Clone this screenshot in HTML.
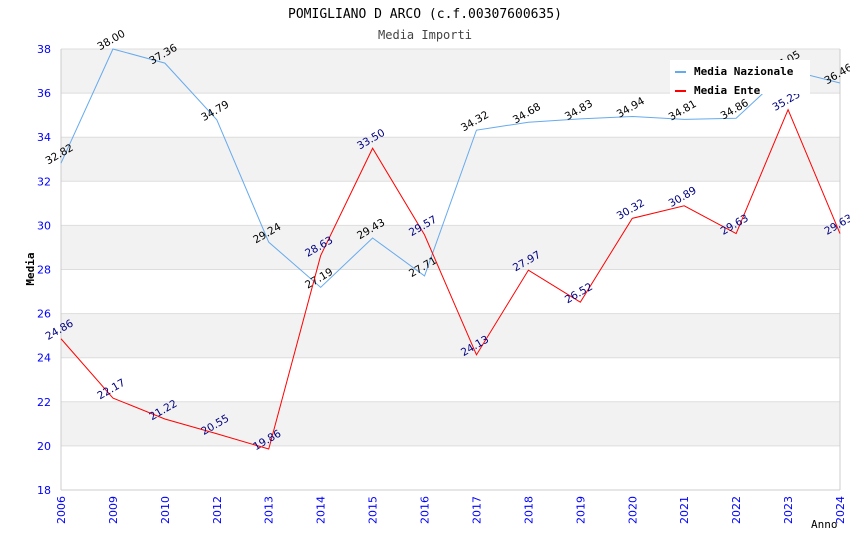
<!DOCTYPE html>
<html><head><meta charset="utf-8"><style>
body{margin:0;background:#fff}
svg{display:block}
.mono{font-family:"DejaVu Sans Mono","Liberation Mono",monospace}
.sans{font-family:"DejaVu Sans","Liberation Sans",sans-serif}
</style></head><body>
<svg id="c" width="850" height="550"></svg>
<script>
const categories=["2006","2009","2010","2012","2013","2014","2015","2016","2017","2018","2019","2020","2021","2022","2023","2024"];
const nazionale=[32.82,38.00,37.36,34.79,29.24,27.19,29.43,27.71,34.32,34.68,34.83,34.94,34.81,34.86,37.05,36.46];
const ente=[24.86,22.17,21.22,20.55,19.86,28.63,33.50,29.57,24.13,27.97,26.52,30.32,30.89,29.63,35.25,29.63];
const yTicks=[18,20,22,24,26,28,30,32,34,36,38];
const NS="http://www.w3.org/2000/svg";
const svg=document.getElementById('c');
const L=61,R=840,T=49,B=490,yMin=18,yMax=38;
const xS=i=>L+i*(R-L)/(categories.length-1);
const yS=v=>B-(v-yMin)/(yMax-yMin)*(B-T);
function mk(tag,attrs,parent){const e=document.createElementNS(NS,tag);for(const k in attrs)e.setAttribute(k,attrs[k]);(parent||svg).appendChild(e);return e;}
for(let i=0;i<yTicks.length-1;i++){
 if(i%2===1){const r=mk('rect',{x:L,y:yS(yTicks[i+1]),width:R-L,height:yS(yTicks[i])-yS(yTicks[i+1]),fill:'#f2f2f2'});
 
 }
}
yTicks.forEach(v=>{
 const g=mk('line',{x1:L,x2:R,y1:yS(v),y2:yS(v),stroke:'#dddddd','stroke-width':1});
 
 
 const t=mk('text',{x:L-10,y:yS(v)+4,'text-anchor':'end','font-size':11,fill:'#0000ff',class:'sans'});
 t.textContent=v;
 
 
});
mk('line',{x1:L,x2:L,y1:T,y2:B,stroke:'#ccc'});
mk('line',{x1:R,x2:R,y1:T,y2:B,stroke:'#ccc'});
mk('line',{x1:L,x2:R,y1:B,y2:B,stroke:'#ccc'});
categories.forEach((c,i)=>{
 const x=xS(i);
 const t=mk('text',{x:0,y:0,'text-anchor':'end','font-size':11,fill:'#0000ff',class:'sans',transform:`translate(${x+4},${B+6}) rotate(-90)`});
 t.textContent=c;
 
 
});
function series(data,color,labelColor,name){
 const p=mk('polyline',{points:data.map((v,i)=>xS(i)+','+yS(v)).join(' '),fill:'none',stroke:color,'stroke-width':1});
 
 
 data.forEach((v,i)=>{
  const t=mk('text',{x:0,y:0,'text-anchor':'middle','font-size':10.5,fill:labelColor,class:'sans',transform:`translate(${xS(i)},${yS(v)-6}) rotate(-30)`});
  t.textContent=v.toFixed(2);
  
  
 });
}
series(nazionale,'#66aaee','#000000','nazionale');
series(ente,'#ff0000','#000080','ente');
const lg=mk('g',{});


mk('rect',{x:670,y:60,width:140,height:34,fill:'#fff'},lg);
mk('line',{x1:675,x2:686,y1:72,y2:72,stroke:'#66aaee','stroke-width':2},lg);
mk('line',{x1:675,x2:686,y1:91,y2:91,stroke:'#ff0000','stroke-width':2},lg);
const l1=mk('text',{x:694,y:75,'font-size':11,'font-weight':'bold',class:'mono'},lg);l1.textContent='Media Nazionale';


const l2=mk('text',{x:694,y:94,'font-size':11,'font-weight':'bold',class:'mono'},lg);l2.textContent='Media Ente';


const tt=mk('text',{x:425,y:18,'text-anchor':'middle','font-size':13,class:'mono'});tt.textContent='POMIGLIANO D ARCO (c.f.00307600635)';


const st=mk('text',{x:425,y:39,'text-anchor':'middle','font-size':12,fill:'#444',class:'mono'});st.textContent='Media Importi';


const yt=mk('text',{x:0,y:0,'text-anchor':'middle','font-size':11,'font-weight':'bold',class:'mono',transform:'translate(34,269) rotate(-90)'});yt.textContent='Media';


const xt=mk('text',{x:811,y:528,'font-size':11,class:'mono'});xt.textContent='Anno';


</script>
</body></html>
